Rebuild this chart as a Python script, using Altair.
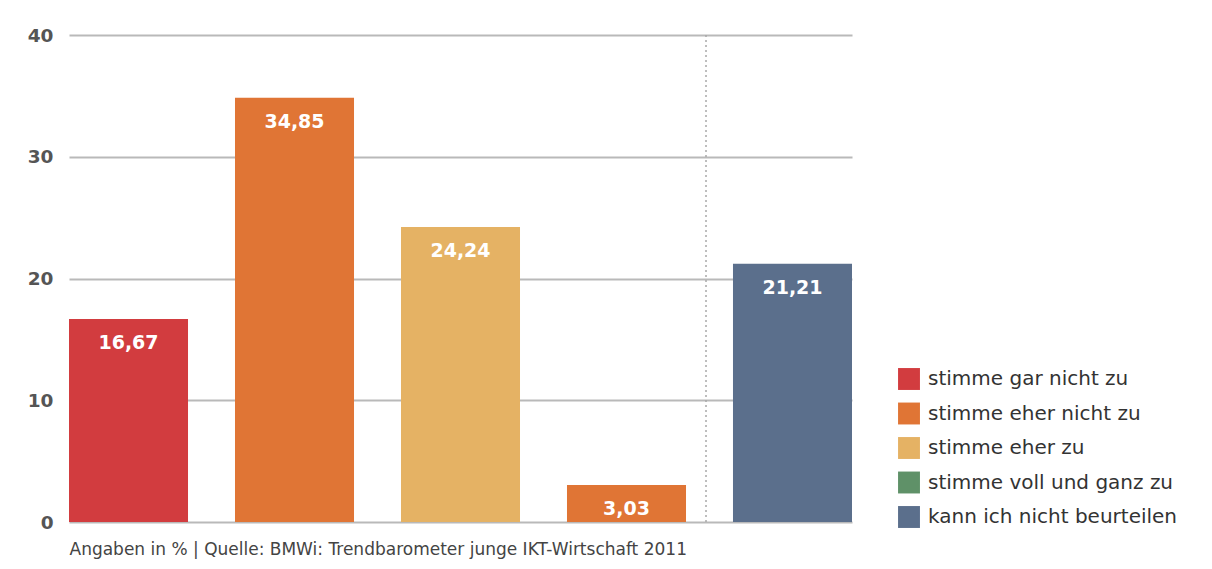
import altair as alt
import pandas as pd

# Legend categories and colours
legende = ["stimme gar nicht zu", "stimme eher nicht zu", "stimme eher zu",
           "stimme voll und ganz zu", "kann ich nicht beurteilen"]
farben = ["#d23c3f", "#e07535", "#e5b264", "#5f9168", "#5b6f8c"]

# Bars (as drawn in the source)
balken = ["A", "B", "C", "D", "E"]
werte = [16.67, 34.85, 24.24, 3.03, 21.21]
balken_kategorie = ["stimme gar nicht zu", "stimme eher nicht zu", "stimme eher zu",
                    "stimme eher nicht zu", "kann ich nicht beurteilen"]
beschriftung = ["16,67", "34,85", "24,24", "3,03", "21,21"]

fusszeile = "Angaben in % | Quelle: BMWi: Trendbarometer junge IKT-Wirtschaft 2011"
FONT = "DejaVu Sans, sans-serif"

df = pd.DataFrame({"balken": balken, "wert": werte, "kat": balken_kategorie, "label": beschriftung})
trenn = pd.DataFrame({"balken": ["D"], "y0": [0], "y1": [40]})

xscale = alt.Scale(domain=balken, paddingInner=0.283, paddingOuter=0)
yscale = alt.Scale(domain=[0, 40], nice=False)

bars = alt.Chart(df).mark_bar().encode(
    x=alt.X("balken:N", scale=xscale,
            axis=alt.Axis(labels=False, ticks=False, domain=False, title=fusszeile,
                          titleAnchor="start", titleFont=FONT, titleFontSize=17,
                          titleFontWeight="normal", titleColor="#444", titlePadding=19)),
    y=alt.Y("wert:Q", scale=yscale,
            axis=alt.Axis(values=[0, 10, 20, 30, 40], title=None, domain=False, ticks=False,
                          labelFont=FONT, labelFontSize=18.5, labelFontWeight="bold",
                          labelColor="#555", labelPadding=16,
                          gridColor="#b9b9b9", gridWidth=2)),
    color=alt.Color("kat:N", scale=alt.Scale(domain=legende, range=farben),
                    legend=alt.Legend(title=None, orient="none", legendX=829, legendY=333,
                                      symbolType="square", symbolSize=480, symbolStrokeWidth=0,
                                      symbolOpacity=1,
                                      labelFont=FONT, labelFontSize=20, labelColor="#333",
                                      rowPadding=12.5, labelOffset=8, labelLimit=400)),
)

text = alt.Chart(df).mark_text(color="white", font=FONT, fontSize=19, fontWeight="bold",
                               baseline="middle", dy=24).encode(
    x=alt.X("balken:N", scale=xscale),
    y=alt.Y("wert:Q", scale=yscale),
    text="label:N",
)

rule = alt.Chart(trenn).mark_rule(color="#a8a8a8", strokeDash=[2, 3], strokeWidth=1.5,
                                  xOffset=20).encode(
    x=alt.X("balken:N", scale=xscale, bandPosition=1),
    y=alt.Y("y0:Q", scale=yscale),
    y2="y1:Q",
)

chart = alt.layer(rule, bars, text).properties(
    width=783, height=487,
    autosize=alt.AutoSizeParams(type="none"),
    padding={"left": 61, "top": 27, "right": 340, "bottom": 44},
    background="white",
).configure_view(stroke=None)

chart.save("out.html", embed_options={"renderer": "svg", "actions": False})
